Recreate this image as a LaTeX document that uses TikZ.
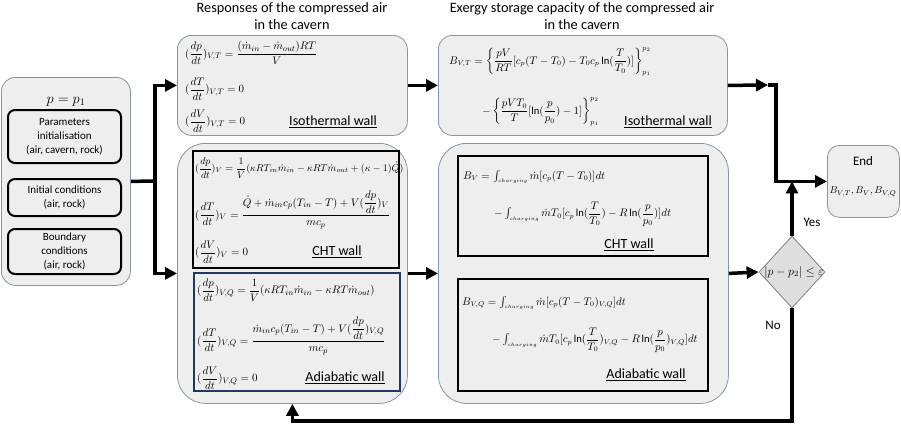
\documentclass[tikz,border=0pt]{standalone}
\usepackage{amsmath}
\usepackage{fontspec}
\setmainfont{Carlito}
\usetikzlibrary{arrows.meta,shapes.geometric,positioning}

\definecolor{panelfill}{HTML}{EEEEEE}
\definecolor{paneledge}{HTML}{8497A8}
\definecolor{navyedge}{HTML}{1F3864}
\definecolor{diamfill}{HTML}{DEDEDE}

\newcommand{\chg}{{\scriptscriptstyle charging}}

\tikzset{
    panel/.style={draw=paneledge, fill=panelfill, line width=0.8pt,
        rounded corners=14pt, anchor=north west, inner sep=0pt},
    bigpanel/.style={panel, rounded corners=28pt},
    eqframe/.style={draw=black, line width=2pt, anchor=north west, inner sep=0pt},
    stepframe/.style={draw=black, line width=2pt, rounded corners=7pt,
        anchor=north west, inner sep=0pt, align=center,
        font=\fontsize{11}{14}\selectfont},
    eqn/.style={anchor=west, inner sep=0pt, font=\fontsize{11}{13}\selectfont},
    exeqn/.style={eqn, font=\fontsize{10.6}{13}\selectfont},
    wall/.style={inner sep=0pt, font=\fontsize{14}{16}\selectfont},
    flow/.style={line width=3.5pt, draw=black},
    tip/.style={-{Triangle[length=12pt,width=12pt]}}
}

\begin{document}
\begin{tikzpicture}[x=1pt, y=-1pt]

    \useasboundingbox (0,0) rectangle (901,426);

    % ==========================================
    % 1. TITLES
    % ==========================================
    \node[align=center, font=\fontsize{14.3}{17}\selectfont] (ttlresp) at (292,16)
        {Responses of the compressed air\\in the cavern};
    \node[align=center, font=\fontsize{14.3}{17}\selectfont] (ttlex) at (582,16)
        {Exergy storage capacity of the compressed air\\in the cavern};

    % ==========================================
    % 2. PANELS
    % ==========================================
    % Left: initialisation
    \node[panel, minimum width=129, minimum height=208] (init) at (1,77) {};
    \node[font=\fontsize{14}{16}\selectfont] (pstart) at (66,102) {$p=p_1$};
    \node[stepframe, minimum width=113, minimum height=53] (pinit) at (7,109)
        {Parameters\\initialisation\\(air, cavern, rock)};
    \node[stepframe, minimum width=113, minimum height=37] (icond) at (7,178)
        {Initial conditions\\(air, rock)};
    \node[stepframe, minimum width=113, minimum height=45] (bcond) at (7,228)
        {Boundary\\conditions\\(air, rock)};

    % Middle: responses
    \node[panel, minimum width=230, minimum height=100] (iso) at (177,35) {};
    \node[bigpanel, minimum width=230, minimum height=260] (resp) at (177,143) {};
    \node[eqframe, minimum width=206, minimum height=117] (cht) at (192,150) {};
    \node[eqframe, draw=navyedge, minimum width=206, minimum height=118] (adia) at (193,272) {};

    % Right: exergy
    \node[panel, minimum width=289, minimum height=100] (exiso) at (438,35) {};
    \node[bigpanel, minimum width=290, minimum height=260] (exresp) at (438,143) {};
    \node[eqframe, minimum width=250, minimum height=100] (excht) at (457,155) {};
    \node[eqframe, minimum width=250, minimum height=112] (exadia) at (457,278) {};

    % End and check
    \node[panel, rounded corners=12pt, minimum width=72, minimum height=72] (fin) at (827,145) {};
    \node[font=\fontsize{13}{15}\selectfont] (fintxt) at (863,161) {End};
    \node[font=\fontsize{10}{12}\selectfont] (finres) at (863,192) {$B_{V,T},B_V,B_{V,Q}$};
    \node[diamond, draw=gray, fill=diamfill, line width=0.8pt, inner sep=0pt,
        minimum width=66, minimum height=72] (check) at (792,272) {};
    \node[font=\fontsize{12}{14}\selectfont, inner sep=0pt] (checktxt) at (794,272)
        {$\left|p-p_2\right|\le\varepsilon$};

    % ==========================================
    % 3. EQUATIONS: RESPONSES
    % ==========================================
    \node[eqn] (isoA) at (185,53)
        {$(\dfrac{dp}{dt})_{V,T}=\dfrac{(\dot m_{in}-\dot m_{out})RT}{V}$};
    \node[eqn] (isoB) at (185,89) {$(\dfrac{dT}{dt})_{V,T}=0$};
    \node[eqn] (isoC) at (185,121) {$(\dfrac{dV}{dt})_{V,T}=0$};
    \node[wall] (isoW) at (333,122) {\underline{Isothermal wall}};

    \node[eqn, font=\fontsize{9.9}{12}\selectfont] (chtA) at (195,168)
        {$(\dfrac{dp}{dt})_V=\dfrac{1}{V}(\kappa RT_{in}\dot m_{in}-\kappa RT\dot m_{out}+(\kappa-1)\dot Q)$};
    \node[eqn] (chtB) at (195,210)
        {$(\dfrac{dT}{dt})_V=\dfrac{\dot Q+\dot m_{in}c_p(T_{in}-T)+V(\dfrac{dp}{dt})_V}{mc_p}$};
    \node[eqn] (chtC) at (195,252) {$(\dfrac{dV}{dt})_V=0$};
    \node[wall] (chtW) at (337,252) {\underline{CHT wall}};

    \node[eqn] (adiaA) at (197,290)
        {$(\dfrac{dp}{dt})_{V,Q}=\dfrac{1}{V}(\kappa RT_{in}\dot m_{in}-\kappa RT\dot m_{out})$};
    \node[eqn] (adiaB) at (197,336)
        {$(\dfrac{dT}{dt})_{V,Q}=\dfrac{\dot m_{in}c_p(T_{in}-T)+V(\dfrac{dp}{dt})_{V,Q}}{mc_p}$};
    \node[eqn] (adiaC) at (197,378) {$(\dfrac{dV}{dt})_{V,Q}=0$};
    \node[wall] (adiaW) at (345,378) {\underline{Adiabatic wall}};

    % ==========================================
    % 4. EQUATIONS: EXERGY
    % ==========================================
    \node[exeqn] (exisoA) at (449,62)
        {$B_{V,T}=\left\{\dfrac{pV}{RT}[c_p(T-T_0)-T_0c_p\ln(\dfrac{T}{T_0})]\right\}_{p_1}^{p_2}$};
    \node[exeqn] (exisoB) at (482,112)
        {$-\left\{\dfrac{pVT_0}{T}[\ln(\dfrac{p}{p_0})-1]\right\}_{p_1}^{p_2}$};
    \node[wall] (exisoW) at (668,122) {\underline{Isothermal wall}};

    \node[exeqn] (exchtA) at (463,177)
        {$B_V=\int_\chg\dot m[c_p(T-T_0)]dt$};
    \node[exeqn] (exchtB) at (494,214)
        {$-\int_\chg\dot mT_0[c_p\ln(\dfrac{T}{T_0})-R\ln(\dfrac{p}{p_0})]dt$};
    \node[wall] (exchtW) at (629,245) {\underline{CHT wall}};

    \node[exeqn] (exadiaA) at (462,303)
        {$B_{V,Q}=\int_\chg\dot m[c_p(T-T_0)_{V,Q}]dt$};
    \node[exeqn] (exadiaB) at (492,340)
        {$-\int_\chg\dot mT_0[c_p\ln(\dfrac{T}{T_0})_{V,Q}-R\ln(\dfrac{p}{p_0})_{V,Q}]dt$};
    \node[wall] (exadiaW) at (646,375) {\underline{Adiabatic wall}};

    % ==========================================
    % 5. CONNECTORS
    % ==========================================
    \coordinate (split) at (155,181);
    \coordinate (midtip) at (768,85);
    \coordinate (turn) at (776,85);
    \coordinate (back) at (0,421);

    \draw[flow] (init.east) -- (split);
    \draw[flow, tip] (split) |- (iso.west);
    \draw[flow, tip] (split) |- (resp.west);

    \draw[flow, tip] (iso.east) -- (exiso.west);
    \draw[flow, tip] (resp.east) -- (exresp.west);

    \draw[flow, tip] (exiso.east) -- (midtip);
    \draw[flow, tip] (midtip) -- (turn) |- (fin.west);
    \draw[flow, tip] (exresp.east) -- (check.west);
    \draw[flow, tip] (check.north) -- (check.north |- fin.west);
    \draw[flow, tip] (check.south) |- (resp.south |- back) -- (resp.south);

    \node[font=\fontsize{13}{15}\selectfont] (yes) at (812,222) {Yes};
    \node[font=\fontsize{13}{15}\selectfont] (no) at (773,325) {No};

\end{tikzpicture}
\end{document}
